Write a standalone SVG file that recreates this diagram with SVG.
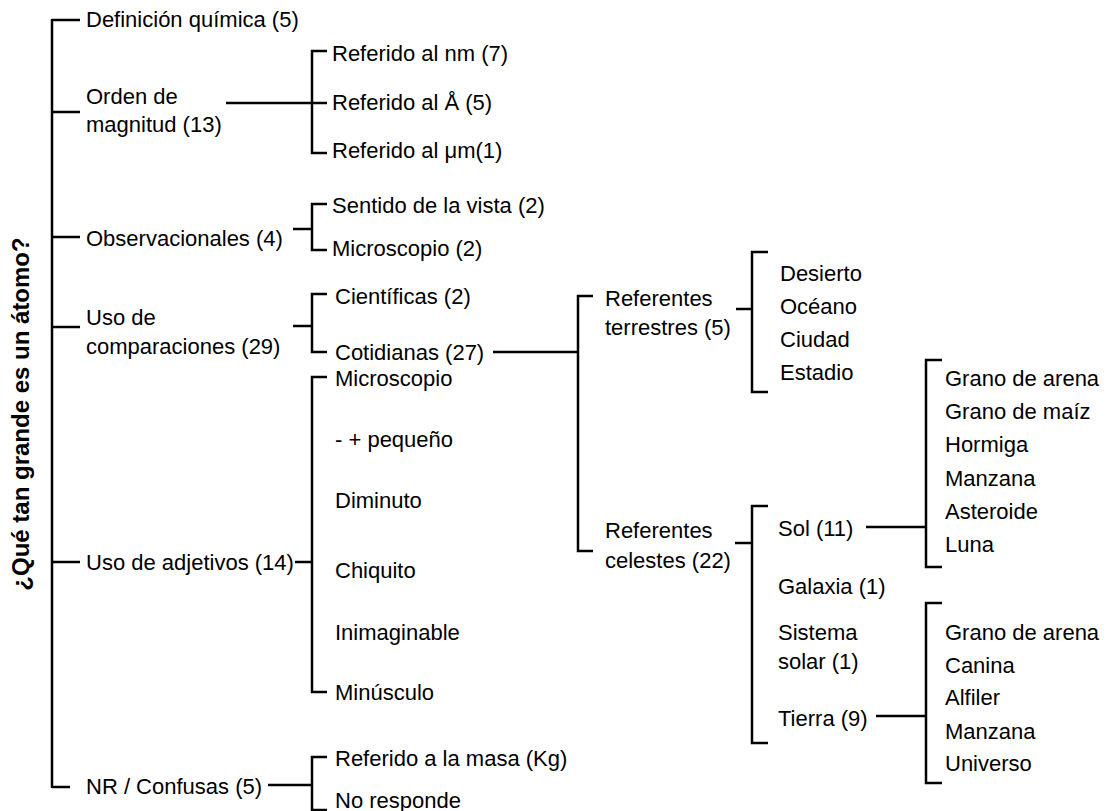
<svg xmlns="http://www.w3.org/2000/svg" width="1107" height="811" viewBox="0 0 1107 811">
<style>
text{font-family:"Liberation Sans",Arial,sans-serif;font-size:22px;fill:#000;dominant-baseline:central}
.t{font-weight:bold;font-size:24px}
.c line,.c polyline{stroke:#000;stroke-width:2.5;fill:none;stroke-linecap:butt}
</style>
<rect width="1107" height="811" fill="#fff"/>
<g id="root"><text class="t" transform="translate(20,414) rotate(-90)" text-anchor="middle">¿Qué tan grande es un átomo?</text></g>
<g class="c" id="connectors">
<line x1="52" y1="19" x2="52" y2="788"/>
<line x1="52" y1="20" x2="80" y2="20"/>
<line x1="52" y1="112" x2="80" y2="112"/>
<line x1="52" y1="237" x2="80" y2="237"/>
<line x1="52" y1="327" x2="80" y2="327"/>
<line x1="52" y1="562" x2="80" y2="562"/>
<line x1="52" y1="787" x2="70" y2="787"/>
<line x1="226" y1="103" x2="327" y2="103"/>
<polyline points="327,51 312,51 312,153 327,153"/>
<line x1="293" y1="229" x2="312" y2="229"/>
<polyline points="327,204 312,204 312,250 327,250"/>
<line x1="293" y1="326" x2="312" y2="326"/>
<polyline points="327,294 312,294 312,352 327,352"/>
<line x1="493" y1="352" x2="578" y2="352"/>
<polyline points="593,296 578,296 578,551 593,551"/>
<line x1="736" y1="309" x2="752" y2="309"/>
<polyline points="768,252 752,252 752,392 768,392"/>
<line x1="735" y1="543" x2="752" y2="543"/>
<polyline points="768,506 752,506 752,743 768,743"/>
<line x1="866" y1="527" x2="926" y2="527"/>
<polyline points="942,360 926,360 926,567 942,567"/>
<line x1="876" y1="716" x2="926" y2="716"/>
<polyline points="942,603 926,603 926,783 942,783"/>
<line x1="295" y1="562" x2="312" y2="562"/>
<polyline points="327,377 312,377 312,692 327,692"/>
<line x1="268" y1="785" x2="312" y2="785"/>
<polyline points="327,757 312,757 312,810 327,810"/>
</g>
<g id="n1"><text x="86" y="19">Definición química (5)</text></g>
<g id="n2"><text x="86" y="96">Orden de</text><text x="86" y="124">magnitud (13)</text></g>
<g id="n2a"><text x="332" y="53">Referido al nm (7)</text></g>
<g id="n2b"><text x="332" y="102">Referido al Å (5)</text></g>
<g id="n2c"><text x="332" y="150">Referido al μm(1)</text></g>
<g id="n3"><text x="86" y="238">Observacionales (4)</text></g>
<g id="n3a"><text x="332" y="205">Sentido de la vista (2)</text></g>
<g id="n3b"><text x="332" y="248">Microscopio (2)</text></g>
<g id="n4"><text x="86" y="317">Uso de</text><text x="86" y="346">comparaciones (29)</text></g>
<g id="n4a"><text x="335" y="296">Científicas (2)</text></g>
<g id="n4b"><text x="335" y="352">Cotidianas (27)</text></g>
<g id="n5"><text x="605" y="298">Referentes</text><text x="605" y="327">terrestres (5)</text></g>
<g id="n5l"><text x="780" y="273">Desierto</text><text x="780" y="306">Océano</text><text x="780" y="339">Ciudad</text><text x="780" y="372">Estadio</text></g>
<g id="n6"><text x="605" y="530">Referentes</text><text x="605" y="560">celestes (22)</text></g>
<g id="n6a"><text x="778" y="528">Sol (11)</text></g>
<g id="n6al"><text x="945" y="378">Grano de arena</text><text x="945" y="411">Grano de maíz</text><text x="945" y="444">Hormiga</text><text x="945" y="478">Manzana</text><text x="945" y="511">Asteroide</text><text x="945" y="544">Luna</text></g>
<g id="n6b"><text x="778" y="586">Galaxia (1)</text></g>
<g id="n6c"><text x="778" y="632">Sistema</text><text x="778" y="661">solar (1)</text></g>
<g id="n6d"><text x="778" y="718">Tierra (9)</text></g>
<g id="n6dl"><text x="945" y="632">Grano de arena</text><text x="945" y="665">Canina</text><text x="945" y="697">Alfiler</text><text x="945" y="731">Manzana</text><text x="945" y="763">Universo</text></g>
<g id="n7"><text x="86" y="562">Uso de adjetivos (14)</text></g>
<g id="n7l"><text x="335" y="378">Microscopio</text><text x="335" y="439">- + pequeño</text><text x="335" y="500">Diminuto</text><text x="335" y="570">Chiquito</text><text x="335" y="632">Inimaginable</text><text x="335" y="692">Minúsculo</text></g>
<g id="n8"><text x="86" y="786">NR / Confusas (5)</text></g>
<g id="n8l"><text x="335" y="758">Referido a la masa (Kg)</text><text x="335" y="800">No responde</text></g>
</svg>
